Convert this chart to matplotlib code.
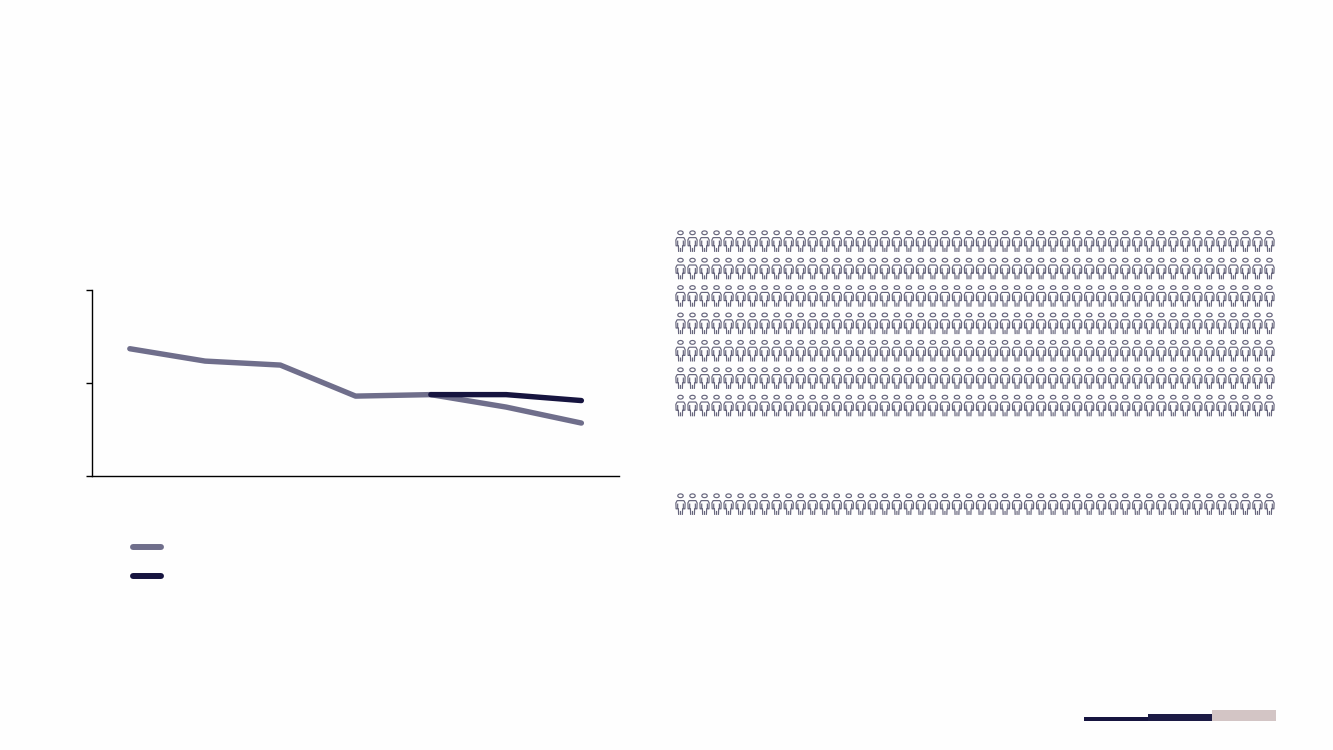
import matplotlib
matplotlib.use('Agg')
import matplotlib.pyplot as plt
import numpy as np
from matplotlib.path import Path
from matplotlib.lines import Line2D

# line chart values, the text on the original is blank
periods = [0, 1, 2, 3, 4, 5, 6]
actual = [1.37, 1.237, 1.194, 0.86, 0.876, 0.742, 0.57]
projected_periods = [4, 5, 6]
projected = [0.876, 0.876, 0.812]
y_ticks = [0, 1, 2]

# pictogram blocks
icons_per_row = 50
rows_upper = 7
rows_lower = 1

# step bars bottom right
step_heights = [4, 7, 11]

GREY = '#6f6e8b'
NAVY = '#16143f'
PINK = '#d3c5c5'
ICON = '#66657c'

W, H = 1333, 750


def person_marker():
    # outline of a small standing person, y up, spans -1 to 1
    t = np.linspace(0, 2 * np.pi, 24)
    head = np.column_stack([0.26 * np.cos(t), 0.82 + 0.18 * np.sin(t)])
    body = [(-0.18, -1.0), (-0.2, -0.42), (-0.42, -0.42), (-0.44, 0.14), (-0.32, 0.36),
            (0.32, 0.36), (0.44, 0.14), (0.42, -0.42), (0.2, -0.42), (0.18, -1.0)]
    left_arm = [(-0.27, -0.42), (-0.27, 0.08)]
    right_arm = [(0.27, -0.42), (0.27, 0.08)]
    crotch = [(0.0, -1.0), (0.0, -0.62)]
    verts, codes = [], []
    for part in (head, body, left_arm, right_arm, crotch):
        part = [tuple(p) for p in part]
        verts += part
        codes += [Path.MOVETO] + [Path.LINETO] * (len(part) - 1)
    return Path(verts, codes)


fig = plt.figure(figsize=(W / 100, H / 100), dpi=100, facecolor='#fefefe')

# axes box placed to match the picture
ax = fig.add_axes([92.2 / W, 1 - 476.0 / H, (619 - 92.2) / W, (476.0 - 290.2) / H])
ax.set_facecolor('none')
ax.plot(periods, actual, color=GREY, lw=3.9, solid_capstyle='round', solid_joinstyle='round')
ax.plot(projected_periods, projected, color=NAVY, lw=3.9, solid_capstyle='round', solid_joinstyle='round')
ax.set_xlim(-0.5, 6.5)
ax.set_ylim(0, 2)
ax.set_yticks(y_ticks)
ax.set_yticklabels([])
ax.set_xticks([])
ax.tick_params(axis='y', length=4, width=1, color='black')
ax.spines['top'].set_visible(False)
ax.spines['right'].set_visible(False)
ax.spines['left'].set_linewidth(1)
ax.spines['bottom'].set_linewidth(1)

# overlay in pixel units for legend keys, icons and the step bars
over = fig.add_axes([0, 0, 1, 1])
over.set_xlim(0, W)
over.set_ylim(H, 0)
over.axis('off')
over.patch.set_alpha(0)

for y, c in zip([547, 576], [GREY, NAVY]):
    over.add_line(Line2D([133, 161], [y, y], color=c, lw=4.3, solid_capstyle='round'))

marker = person_marker()
xs = 680.5 + np.arange(icons_per_row) * 12.02
ys_upper = 241.4 + np.arange(rows_upper) * 27.4
ys_lower = 504.4 + np.arange(rows_lower) * 27.4
for ys in (ys_upper, ys_lower):
    gx, gy = np.meshgrid(xs, ys)
    over.scatter(gx.ravel(), gy.ravel(), marker=marker, s=229, facecolors='none',
                 edgecolors=ICON, linewidths=0.85)

# bars hang on a shared baseline
over.bar([1116, 1180, 1244], [-h for h in step_heights], bottom=721, width=64,
         color=[NAVY, '#1c1b45', PINK], linewidth=0)

fig.savefig('out.png', dpi=100, facecolor=fig.get_facecolor())
